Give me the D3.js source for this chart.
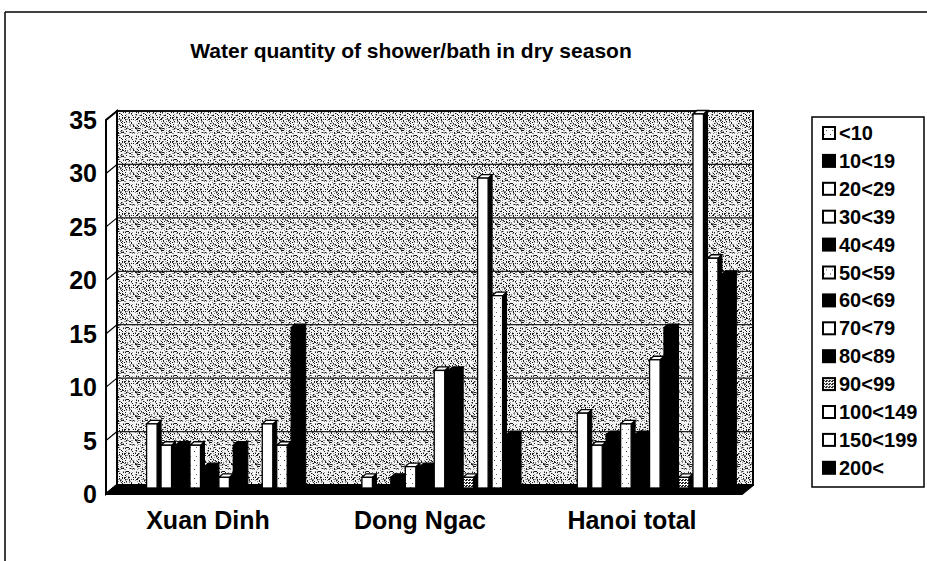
<!DOCTYPE html>
<html>
<head>
<meta charset="utf-8">
<script src="https://cdn.jsdelivr.net/npm/d3@7"></script>
<style>
  html, body { margin: 0; padding: 0; background: #fff; }
  svg { display: block; }
  text { font-family: "Liberation Sans", Arial, sans-serif; font-weight: bold; fill: #000; }
</style>
</head>
<body>
<svg id="chart" width="927" height="561"></svg>
<script>
// ---------- DATA ----------
const title = "Water quantity of shower/bath in dry season";
const categories = ["Xuan Dinh", "Dong Ngac", "Hanoi total"];
const seriesNames = ["<10", "10<19", "20<29", "30<39", "40<49", "50<59", "60<69",
                     "70<79", "80<89", "90<99", "100<149", "150<199", "200<"];
const xuanDinh   = [0, 0, 6, 4, 4, 4, 2, 1, 4, 0, 6, 4, 15];
const dongNgac   = [0, 0, 1, 0, 1, 2, 2, 11, 11, 1, 29, 18, 5];
const hanoiTotal = [0, 0, 7, 4, 5, 6, 5, 12, 15, 1, 35, 21.5, 20];
const yTicks = [0, 5, 10, 15, 20, 25, 30, 35];

// ---------- STYLE ----------
const seriesStyle = ["dots", "black", "white", "white", "black", "dots", "black",
                     "white", "black", "dark", "white", "dots", "black"];
const legendStyle = ["dots", "black", "white", "white", "black", "dots", "black",
                     "white", "black", "dark", "white", "white", "black"];

const valuesByCat = [xuanDinh, dongNgac, hanoiTotal];

const svg = d3.select("#chart");
const defs = svg.append("defs");

// stipple texture for the back wall (deterministic hash, purely decorative)
const T = 24;
const wallPat = defs.append("pattern").attr("id", "wall").attr("patternUnits", "userSpaceOnUse")
  .attr("width", T).attr("height", T);
wallPat.append("rect").attr("width", T).attr("height", T).attr("fill", "#f2f2f2");
for (let py = 0; py < T; py++) {
  for (let px = 0; px < T; px++) {
    const h = ((px * 374761393 + py * 668265263) ^ (px * py * 2654435761)) >>> 0;
    const r = (h >>> 7) % 100;
    if (r < 14) wallPat.append("rect").attr("x", px).attr("y", py).attr("width", 1).attr("height", 1).attr("fill", "#1a1a1a");
    else if (r < 30) wallPat.append("rect").attr("x", px).attr("y", py).attr("width", 1).attr("height", 1).attr("fill", "#8a8a8a");
  }
}

// sparse dots for dotted bars
const dotPat = defs.append("pattern").attr("id", "dots").attr("patternUnits", "userSpaceOnUse")
  .attr("width", 6).attr("height", 9);
dotPat.append("rect").attr("width", 6).attr("height", 9).attr("fill", "#fff");
dotPat.append("rect").attr("x", 2).attr("y", 1).attr("width", 1).attr("height", 1).attr("fill", "#444");
dotPat.append("rect").attr("x", 4).attr("y", 6).attr("width", 1).attr("height", 1).attr("fill", "#666");

// dark checker for 90<99
const darkPat = defs.append("pattern").attr("id", "dark").attr("patternUnits", "userSpaceOnUse")
  .attr("width", 3).attr("height", 3);
darkPat.append("rect").attr("width", 3).attr("height", 3).attr("fill", "#fff");
darkPat.append("rect").attr("x", 0).attr("y", 0).attr("width", 2).attr("height", 1).attr("fill", "#222");
darkPat.append("rect").attr("x", 1).attr("y", 2).attr("width", 2).attr("height", 1).attr("fill", "#222");

function fillFor(s) {
  if (s === "black") return "#000";
  if (s === "white") return "#fff";
  if (s === "dots") return "url(#dots)";
  return "url(#dark)";
}

// ---------- FRAME ----------
svg.append("line").attr("x1", 5).attr("x2", 927).attr("y1", 12).attr("y2", 12)
  .attr("stroke", "#000").attr("stroke-width", 1.5);
svg.append("line").attr("x1", 5).attr("x2", 5).attr("y1", 12).attr("y2", 561)
  .attr("stroke", "#000").attr("stroke-width", 1.5);

// ---------- TITLE ----------
svg.append("text").attr("x", 411).attr("y", 58).attr("text-anchor", "middle")
  .style("font-size", "21px").text(title);

// ---------- SCALES ----------
const frontL = 106, frontR = 742;
const DX = 11, DY = -9;           // depth of the 3D box
const y = d3.scaleLinear().domain([0, 35]).range([494, 120]);   // front plane
const yBack = v => y(v) + DY;
const yBar = v => y(v) - 6;

const xCat = d3.scaleBand().domain(categories).range([frontL, frontR]);      // front plane, labels
const xGroup = d3.scaleBand().domain(categories).range([104, 750]);          // bar groups (mid depth)
const groupSpan = 188;
const xSer = d3.scaleBand().domain(seriesNames).range([0, groupSpan]);

// ---------- BACK WALL ----------
svg.append("rect").attr("x", frontL + DX).attr("y", yBack(35))
  .attr("width", frontR - frontL).attr("height", yBack(0) - yBack(35))
  .attr("fill", "url(#wall)").attr("stroke", "#000").attr("stroke-width", 2);

// gridlines on back wall
svg.append("g").selectAll("line").data(yTicks.filter(t => t > 0)).join("line")
  .attr("x1", frontL + DX).attr("x2", frontR + DX)
  .attr("y1", d => yBack(d)).attr("y2", d => yBack(d))
  .attr("stroke", "#222").attr("stroke-width", 1.2);

// left wall
svg.append("path")
  .attr("d", `M${frontL},${y(0)} L${frontL},${y(35)} L${frontL + DX},${yBack(35)} L${frontL + DX},${yBack(0)} Z`)
  .attr("fill", "#fff").attr("stroke", "#000").attr("stroke-width", 2);
svg.append("g").selectAll("line").data(yTicks).join("line")
  .attr("x1", frontL).attr("x2", frontL + DX)
  .attr("y1", d => y(d)).attr("y2", d => yBack(d))
  .attr("stroke", "#000").attr("stroke-width", 1.2);

// floor
svg.append("path")
  .attr("d", `M${frontL},${y(0)} L${frontR},${y(0)} L${frontR + DX},${yBack(0)} L${frontL + DX},${yBack(0)} Z`)
  .attr("fill", "#000").attr("stroke", "#000").attr("stroke-width", 2).attr("stroke-linejoin", "round");

// ---------- Y AXIS LABELS ----------
svg.append("g").selectAll("text").data(yTicks).join("text")
  .attr("x", 97).attr("y", d => y(d)).attr("text-anchor", "end")
  .attr("dominant-baseline", "central").style("font-size", "25px")
  .text(d => d);

// ---------- BARS ----------
const bw = 10.5, bdx = 4, bdy = -3.5;
const barsG = svg.append("g");
categories.forEach((cat, ci) => {
  const gx = xGroup(cat) + (xGroup.bandwidth() - groupSpan) / 2;
  const vals = valuesByCat[ci];
  seriesNames.forEach((s, si) => {
    const v = vals[si];
    if (!(v > 0)) return;
    const st = seriesStyle[si];
    const x = gx + xSer(s);
    const top = yBar(v), base = yBar(0);
    const g = barsG.append("g");
    g.append("path")
      .attr("d", `M${x + bw},${base} L${x + bw},${top} L${x + bw + bdx},${top + bdy} L${x + bw + bdx},${base + bdy} Z`)
      .attr("fill", "#000").attr("stroke", "#000").attr("stroke-width", 1);
    g.append("path")
      .attr("d", `M${x},${top} L${x + bw},${top} L${x + bw + bdx},${top + bdy} L${x + bdx},${top + bdy} Z`)
      .attr("fill", st === "black" ? "#000" : "#fff").attr("stroke", "#000").attr("stroke-width", 1.3);
    g.append("rect").attr("x", x).attr("y", top).attr("width", bw).attr("height", base - top)
      .attr("fill", fillFor(st)).attr("stroke", "#000").attr("stroke-width", 1.3);
  });
});

// ---------- CATEGORY LABELS ----------
svg.append("g").selectAll("text").data(categories).join("text")
  .attr("x", d => xCat(d) + xCat.bandwidth() / 2 - 4).attr("y", 529)
  .attr("text-anchor", "middle").style("font-size", "25px")
  .text(d => d);

// ---------- LEGEND ----------
svg.append("rect").attr("x", 812).attr("y", 117).attr("width", 112).attr("height", 370)
  .attr("fill", "#fff").attr("stroke", "#000").attr("stroke-width", 1.5);
const leg = svg.append("g").selectAll("g").data(seriesNames).join("g")
  .attr("transform", (d, i) => `translate(0,${133 + i * 27.9})`);
leg.append("rect").attr("x", 823).attr("y", -6).attr("width", 12).attr("height", 12)
  .attr("fill", (d, i) => fillFor(legendStyle[i])).attr("stroke", "#000").attr("stroke-width", 2);
leg.append("text").attr("x", 839).attr("y", 0).attr("dominant-baseline", "central")
  .style("font-size", "20px").text(d => d);
</script>
</body>
</html>
